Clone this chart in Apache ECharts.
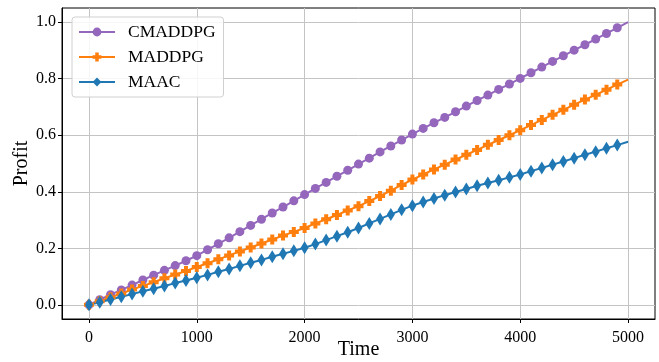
<!DOCTYPE html>
<html>
<head>
<meta charset="utf-8">
<script src="https://cdn.jsdelivr.net/npm/echarts@6/dist/echarts.min.js"></script>
<style>
  html, body { margin: 0; padding: 0; background: #fff; }
  #chart { width: 659px; height: 362px; }
</style>
</head>
<body>
<div id="chart"></div>
<script>
// time steps (markers every 100, line ends at 5000)
const times = [0, 100, 200, 300, 400, 500, 600, 700, 800, 900,
    1000, 1100, 1200, 1300, 1400, 1500, 1600, 1700, 1800, 1900,
    2000, 2100, 2200, 2300, 2400, 2500, 2600, 2700, 2800, 2900,
    3000, 3100, 3200, 3300, 3400, 3500, 3600, 3700, 3800, 3900,
    4000, 4100, 4200, 4300, 4400, 4500, 4600, 4700, 4800, 4900, 5000];

const cmaddpg = [0.000, 0.018, 0.036, 0.053, 0.070, 0.088, 0.105, 0.122, 0.139, 0.156,
    0.174, 0.195, 0.216, 0.237, 0.259, 0.281, 0.303, 0.325, 0.346, 0.368,
    0.390, 0.412, 0.433, 0.455, 0.476, 0.498, 0.519, 0.541, 0.562, 0.583,
    0.604, 0.624, 0.644, 0.663, 0.683, 0.703, 0.723, 0.742, 0.762, 0.781,
    0.801, 0.821, 0.841, 0.861, 0.881, 0.901, 0.920, 0.940, 0.960, 0.980, 1.000];

const maddpg = [0.000, 0.013, 0.027, 0.040, 0.054, 0.067, 0.080, 0.094, 0.107, 0.120,
    0.134, 0.147, 0.161, 0.175, 0.189, 0.203, 0.217, 0.231, 0.245, 0.258,
    0.272, 0.288, 0.303, 0.318, 0.334, 0.349, 0.367, 0.385, 0.404, 0.424,
    0.443, 0.461, 0.479, 0.496, 0.514, 0.531, 0.548, 0.566, 0.583, 0.600,
    0.618, 0.636, 0.654, 0.672, 0.690, 0.708, 0.726, 0.743, 0.761, 0.779, 0.797];

const maac = [0.000, 0.009, 0.019, 0.029, 0.038, 0.048, 0.057, 0.067, 0.077, 0.086,
    0.096, 0.106, 0.117, 0.127, 0.138, 0.149, 0.159, 0.170, 0.181, 0.191,
    0.202, 0.215, 0.229, 0.243, 0.257, 0.272, 0.288, 0.304, 0.320, 0.336,
    0.351, 0.364, 0.376, 0.388, 0.399, 0.410, 0.421, 0.431, 0.441, 0.451,
    0.461, 0.473, 0.484, 0.496, 0.507, 0.519, 0.531, 0.542, 0.554, 0.565, 0.577];

const xTicks = [0, 1000, 2000, 3000, 4000, 5000];
const yTicks = [0, 0.2, 0.4, 0.6, 0.8, 1.0];

const FONT = 'Liberation Serif';
const PLUS = 'path://M-1.2,-3L1.2,-3L1.2,-1.2L3,-1.2L3,1.2L1.2,1.2L1.2,3L-1.2,3L-1.2,1.2L-3,1.2L-3,-1.2L-1.2,-1.2Z';
const THIN_DIAMOND = 'path://M0,-5L3.2,0L0,5L-3.2,0Z';

// last point has no marker
function toData(vals) {
    return times.map((t, i) => {
        if (i === times.length - 1) return { value: [t, vals[i]], symbol: 'none' };
        return [t, vals[i]];
    });
}

function mkSeries(name, vals, color, symbol, size) {
    return {
        name: name,
        type: 'line',
        data: toData(vals),
        symbol: symbol,
        symbolSize: size,
        showAllSymbol: true,
        lineStyle: { color: color, width: 2 },
        itemStyle: { color: color, borderWidth: 0 },
        animation: false
    };
}

let chart = echarts.init(document.getElementById('chart'));
chart.setOption({
    animation: false,
    grid: {
        left: 62, right: 4, top: 8, bottom: 43,
        outerBoundsMode: 'none',
        containLabel: false,
        show: true, borderColor: '#000', borderWidth: 1
    },
    legend: {
        left: 72, top: 17,
        orient: 'vertical',
        padding: [6, 8, 6, 6],
        itemWidth: 36, itemHeight: 11, itemGap: 7,
        backgroundColor: 'rgba(255,255,255,0.85)',
        borderColor: '#d0d0d0', borderWidth: 1, borderRadius: 3,
        textStyle: { fontFamily: FONT, fontSize: 17.5, color: '#000', padding: [0, 0, 0, 8] },
        data: ['CMADDPG', 'MADDPG', 'MAAC']
    },
    xAxis: {
        type: 'value',
        min: -250, max: 5250,
        name: 'Time', nameLocation: 'middle', nameGap: 31, nameMoveOverlap: false,
        nameTextStyle: { fontFamily: FONT, fontSize: 20, color: '#000', verticalAlign: 'middle' },
        axisLine: { show: true, onZero: false, lineStyle: { color: '#000' } },
        axisTick: { show: true, inside: false, length: 4, lineStyle: { color: '#000' }, customValues: xTicks },
        axisLabel: {
            fontFamily: FONT, fontSize: 16, color: '#000', margin: 11, customValues: xTicks,
            formatter: v => String(v)
        },
        splitLine: { show: true, lineStyle: { color: '#c4c4c4', width: 1 } }
    },
    yAxis: {
        type: 'value',
        min: -0.05, max: 1.05,
        name: 'Profit', nameLocation: 'middle', nameGap: 40, nameMoveOverlap: false,
        nameTextStyle: { fontFamily: FONT, fontSize: 20, color: '#000', verticalAlign: 'middle' },
        axisLine: { show: true, onZero: false, lineStyle: { color: '#000' } },
        axisTick: { show: true, inside: false, length: 4, lineStyle: { color: '#000' }, customValues: yTicks },
        axisLabel: {
            fontFamily: FONT, fontSize: 16, color: '#000', margin: 6, customValues: yTicks,
            formatter: v => v.toFixed(1)
        },
        splitLine: { show: true, lineStyle: { color: '#c4c4c4', width: 1 } }
    },
    series: [
        mkSeries('CMADDPG', cmaddpg, '#9467bd', 'circle', 9),
        mkSeries('MADDPG', maddpg, '#ff7f0e', PLUS, 10),
        mkSeries('MAAC', maac, '#1f77b4', THIN_DIAMOND, [8, 13])
    ]
});
</script>
</body>
</html>
